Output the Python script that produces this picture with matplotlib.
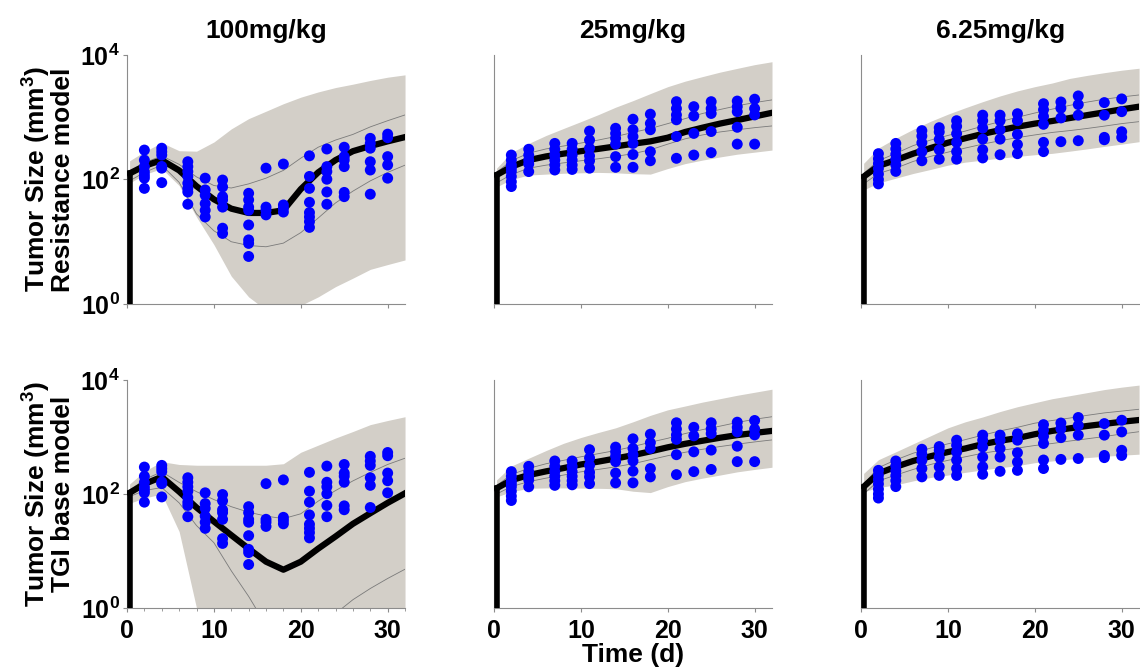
import matplotlib.pyplot as plt
from matplotlib.ticker import MultipleLocator

plt.rcParams['font.family'] = ['Liberation Sans', 'DejaVu Sans']
plt.rcParams['font.weight'] = 'bold'
plt.rcParams['mathtext.fontset'] = 'custom'
plt.rcParams['mathtext.rm'] = 'Liberation Sans:bold'
plt.rcParams['mathtext.bf'] = 'Liberation Sans:bold'

doses = ['100mg/kg', '25mg/kg', '6.25mg/kg']
models = ['Resistance model', 'TGI base model']

# time grid of the simulated curves (days)
t_model = [0.3, 2, 4, 6, 8, 10, 12, 14, 16, 18, 20, 22, 24, 26, 28, 30, 32]

# --- simulations: median, thin percentile lines, shaded interval ---
# 100 mg/kg, resistance model
res100_med = [125, 165, 205, 140, 78, 48, 34, 29, 29, 32, 70, 130, 205, 285, 345, 410, 480]
res100_hi = [135, 185, 240, 175, 110, 80, 73, 85, 105, 140, 220, 330, 430, 530, 700, 880, 1090]
res100_lo = [95, 130, 170, 90, 28, 15, 10, 8.7, 8.3, 9.5, 14, 24, 42, 65, 95, 130, 170]
res100_bhi = [200, 280, 390, 290, 285, 400, 650, 950, 1250, 1650, 2100, 2550, 3000, 3400, 3900, 4400, 4800]
res100_blo = [88, 120, 150, 80, 25, 9, 2.8, 1.3, 0.8, 0.7, 0.95, 1.3, 1.9, 2.6, 3.6, 4.3, 5.1]

# 25 mg/kg, resistance model
res25_med = [118, 160, 205, 235, 260, 285, 310, 340, 375, 410, 470, 580, 680, 790, 900, 1030, 1180]
res25_hi = [130, 200, 265, 310, 345, 385, 430, 490, 570, 660, 790, 950, 1150, 1330, 1530, 1720, 1900]
res25_lo = [88, 120, 152, 170, 185, 200, 215, 235, 260, 300, 370, 450, 520, 580, 630, 680, 725]
res25_bhi = [152, 270, 380, 510, 660, 850, 1100, 1450, 1850, 2400, 3100, 3800, 4500, 5300, 6100, 7000, 7800]
res25_blo = [76, 100, 118, 122, 126, 128, 130, 128, 124, 122, 150, 180, 205, 230, 255, 275, 297]

# 6.25 mg/kg, resistance model
res6_med = [111, 165, 205, 260, 320, 390, 460, 540, 620, 705, 790, 870, 970, 1080, 1200, 1340, 1480]
res6_hi = [125, 200, 263, 350, 430, 510, 600, 720, 850, 1000, 1170, 1350, 1550, 1750, 1950, 2120, 2280]
res6_lo = [85, 125, 152, 195, 235, 275, 320, 370, 420, 470, 520, 570, 610, 660, 720, 790, 850]
res6_bhi = [182, 320, 460, 640, 860, 1120, 1420, 1780, 2200, 2650, 3100, 3550, 4200, 4700, 5200, 5700, 6130]
res6_blo = [68, 88, 105, 125, 145, 170, 190, 205, 220, 235, 250, 263, 285, 310, 340, 370, 405]

# 100 mg/kg, TGI base model
tgi100_med = [105, 150, 200, 110, 58, 33, 19, 11, 6.5, 4.7, 6.5, 11, 18, 30, 46, 70, 103]
tgi100_hi = [115, 180, 245, 160, 110, 80, 60, 48, 41, 37, 45, 75, 115, 170, 240, 330, 425]
tgi100_lo = [90, 115, 130, 70, 28, 14, 4.5, 1.6, 0.5, 0.2, 0.15, 0.25, 0.8, 1.4, 2.2, 3.3, 4.8]
tgi100_bhi = [150, 250, 370, 330, 320, 320, 320, 320, 320, 340, 540, 720, 960, 1250, 1650, 1950, 2270]
tgi100_blo = [69, 85, 100, 22, 1.0, 0.05, 0.05, 0.05, 0.05, 0.05, 0.05, 0.05, 0.05, 0.05, 0.05, 0.05, 0.05]

# 25 mg/kg, TGI base model
tgi25_med = [126, 175, 215, 250, 285, 330, 370, 420, 480, 560, 660, 760, 860, 970, 1080, 1180, 1280]
tgi25_hi = [140, 220, 282, 340, 390, 450, 510, 580, 680, 810, 950, 1150, 1350, 1550, 1800, 2050, 2270]
tgi25_lo = [100, 135, 165, 190, 215, 245, 270, 300, 340, 400, 470, 540, 610, 680, 750, 820, 890]
tgi25_bhi = [177, 310, 425, 580, 775, 980, 1200, 1450, 1850, 2400, 3000, 3500, 4100, 4700, 5400, 6100, 6900]
tgi25_blo = [89, 110, 126, 128, 128, 127, 126, 124, 112, 106, 135, 165, 190, 215, 245, 270, 295]

# 6.25 mg/kg, TGI base model
tgi6_med = [134, 230, 300, 380, 460, 545, 630, 750, 860, 960, 1120, 1280, 1420, 1560, 1700, 1850, 1990]
tgi6_hi = [150, 290, 397, 520, 640, 760, 900, 1080, 1280, 1480, 1750, 1950, 2150, 2400, 2650, 2850, 3070]
tgi6_lo = [100, 170, 215, 270, 330, 390, 450, 520, 580, 640, 710, 770, 850, 930, 1020, 1130, 1240]
tgi6_bhi = [230, 400, 550, 760, 1050, 1450, 1850, 2250, 2800, 3400, 4000, 4700, 5300, 6000, 6800, 7500, 8150]
tgi6_blo = [110, 130, 145, 170, 195, 215, 240, 265, 290, 315, 355, 380, 410, 435, 460, 480, 500]

# --- observed tumour sizes (mm^3) ---
obs_days = [2, 4, 7, 9, 11, 14, 16, 18, 21, 23, 25, 28, 30]
obs100 = [
    [297, 205, 160, 132, 117, 105, 72],
    [318, 280, 247, 162, 152, 89],
    [193, 161, 134, 112, 87, 72, 63, 40],
    [105, 68, 56, 41, 32, 25],
    [98, 76, 53, 47, 36, 16.5, 13.6],
    [60, 47, 36, 32, 18.6, 10.7, 9.4, 5.8],
    [152, 36, 32, 27],
    [177, 39, 34.5, 30],
    [240, 112, 72, 43, 29.5, 25, 21, 17],
    [309, 161, 134, 101, 63, 40],
    [330, 233, 205, 161, 62, 53],
    [458, 380, 318, 193, 142, 58],
    [535, 470, 233, 171, 105],
]
obs25 = [
    [247, 205, 171, 152, 134, 112, 92, 77],
    [306, 247, 205, 177, 134],
    [380, 306, 247, 205, 171, 142],
    [380, 306, 247, 205, 171, 145],
    [600, 430, 318, 240, 200, 152],
    [665, 550, 460, 370, 233, 157],
    [930, 630, 490, 380, 252, 157],
    [1120, 795, 630, 280, 200],
    [1780, 1380, 1090, 910, 490, 219],
    [1480, 1050, 550, 247],
    [1780, 1380, 1150, 590, 270],
    [1820, 1480, 1230, 690, 370],
    [1950, 1380, 1090, 370],
]
obs6 = [
    [260, 215, 180, 150, 122, 100, 85],
    [380, 310, 255, 210, 172, 135],
    [610, 500, 390, 280, 200],
    [680, 580, 440, 300, 212],
    [880, 715, 545, 395, 280, 212],
    [1080, 880, 670, 445, 300, 222],
    [1080, 880, 630, 445, 250],
    [1140, 880, 530, 365, 260],
    [1650, 1320, 1030, 770, 395, 280],
    [1760, 1400, 975, 405],
    [2200, 1600, 1080, 420],
    [1720, 1080, 475, 435],
    [1970, 1230, 585, 475],
]

sims = [
    [(res100_med, res100_hi, res100_lo, res100_bhi, res100_blo),
     (res25_med, res25_hi, res25_lo, res25_bhi, res25_blo),
     (res6_med, res6_hi, res6_lo, res6_bhi, res6_blo)],
    [(tgi100_med, tgi100_hi, tgi100_lo, tgi100_bhi, tgi100_blo),
     (tgi25_med, tgi25_hi, tgi25_lo, tgi25_bhi, tgi25_blo),
     (tgi6_med, tgi6_hi, tgi6_lo, tgi6_bhi, tgi6_blo)],
]
observed = [obs100, obs25, obs6]

band_color = '#d3cfc8'
spine_color = '#8c8c8c'

fig = plt.figure(figsize=(11.4, 6.7), dpi=100)
lefts = [0.1114, 0.4333, 0.7553]
bottoms = [0.5463, 0.0925]
heights = [0.3716, 0.3403]
width = 0.2439

for r in range(2):
    for c in range(3):
        ax = fig.add_axes([lefts[c], bottoms[r], width, heights[r]])
        med, hi, lo, bhi, blo = sims[r][c]

        ax.fill_between(t_model, blo, bhi, color=band_color, lw=0, zorder=1)
        ax.plot(t_model, hi, color='#7a7a7a', lw=0.6, zorder=2)
        ax.plot(t_model, lo, color='#7a7a7a', lw=0.6, zorder=2)
        # model starts from zero volume at t0
        ax.plot([t_model[0], t_model[0]], [0.01, med[0]], color='black', lw=4, zorder=3)
        ax.plot(t_model, med, color='black', lw=4.5, zorder=3,
                solid_joinstyle='round')

        for d, vals in zip(obs_days, observed[c]):
            ax.scatter([d] * len(vals), vals, s=62, color='#0000ff',
                       edgecolors='none', zorder=4, clip_on=False)

        ax.set_yscale('log')
        ax.set_ylim(1, 1e4)
        ax.set_xlim(0, 32)

        for side in ['top', 'right']:
            ax.spines[side].set_visible(False)
        for side in ['left', 'bottom']:
            ax.spines[side].set_color(spine_color)
            ax.spines[side].set_linewidth(0.8)

        ax.set_xticks([0, 10, 20, 30])
        ax.tick_params(axis='x', length=3, color=spine_color, labelsize=18, pad=5)
        ax.yaxis.set_minor_locator(plt.NullLocator())

        if c == 0:
            ax.set_yticks([1, 100, 1e4])
            ax.set_yticklabels([r'$10^0$', r'$10^2$', r'$10^4$'])
            ax.tick_params(axis='y', length=3, color=spine_color, labelsize=18, pad=2)
            ax.set_ylabel('Tumor Size (mm$^3$)\n' + models[r], fontsize=19,
                          fontweight='bold', labelpad=4, linespacing=0.95)
        else:
            ax.tick_params(axis='y', left=False, labelleft=False)

        if r == 0:
            ax.set_title(doses[c], fontsize=19, fontweight='bold', pad=12)
            ax.tick_params(axis='x', labelbottom=False)
        else:
            if c == 0:
                ax.xaxis.set_minor_locator(MultipleLocator(2))
                ax.tick_params(axis='x', which='minor', length=2, color=spine_color)
            if c == 1:
                ax.set_xlabel('Time (d)', fontsize=19, fontweight='bold', labelpad=0)

fig.savefig('out.png', dpi=100)
